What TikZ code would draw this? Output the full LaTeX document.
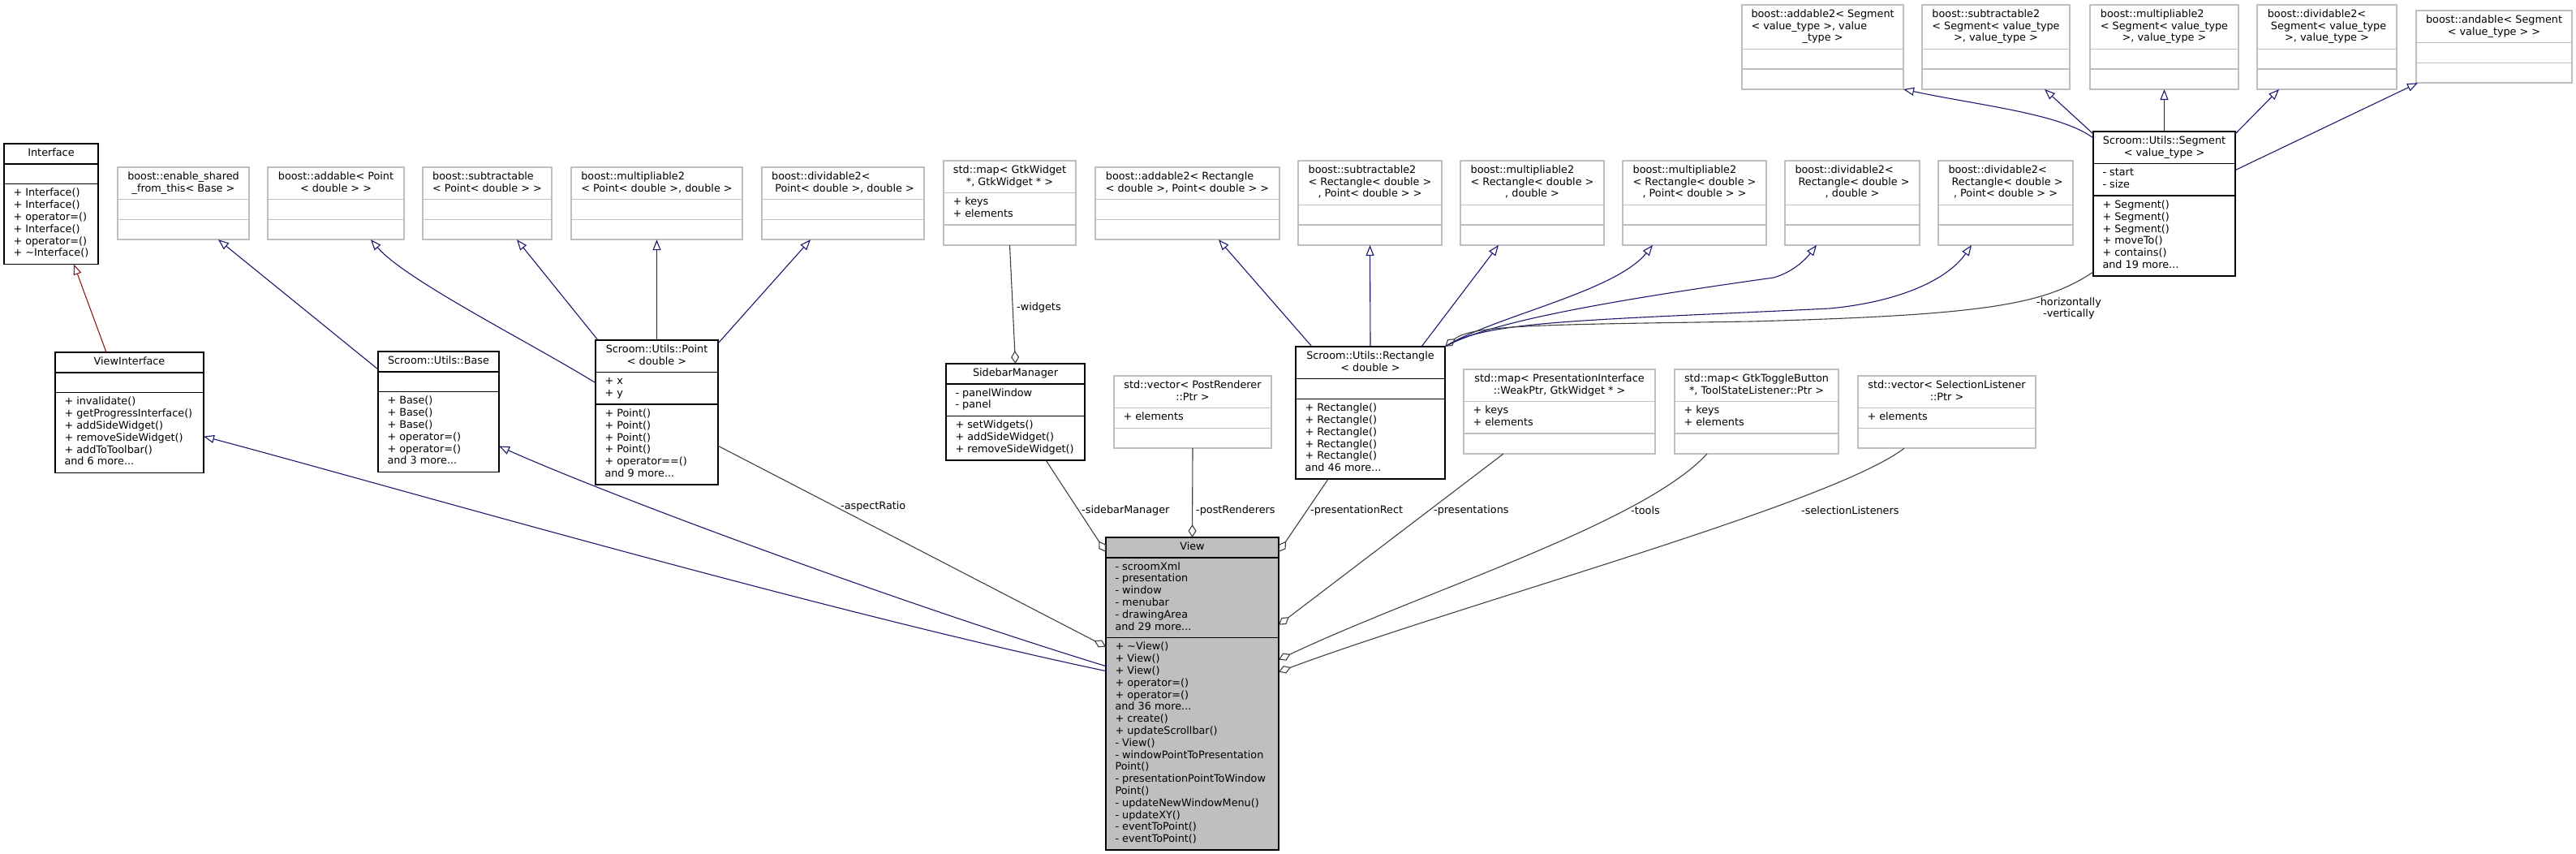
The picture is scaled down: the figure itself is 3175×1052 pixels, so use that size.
\documentclass[tikz,border=0pt]{standalone}
\usepackage{fontspec}
\setmainfont{DejaVu Sans}
\usetikzlibrary{positioning,calc,arrows.meta}

\definecolor{edgeblue}{HTML}{191970}
\definecolor{edgered}{HTML}{8B1A1A}
\definecolor{edgegrey}{HTML}{404040}
\definecolor{extgrey}{HTML}{BFBFBF}
\definecolor{viewfill}{HTML}{BFBFBF}

\tikzset{
  cls/.style={draw=black, line width=1.5pt, outer sep=0pt, inner xsep=11.5pt, inner ysep=5pt, anchor=north west, minimum height=24.8pt},
  ext/.style={cls, draw=extgrey},
  viewcls/.style={cls, fill=viewfill},
  inherit/.style={draw=edgeblue, line width=1.1pt, -{Triangle[open, length=13pt, width=10pt]}},
  inheritred/.style={inherit, draw=edgered},
  uses/.style={draw=edgegrey, line width=1.1pt, -{Diamond[open, length=16pt, width=10pt]}},
  lbl/.style={inner sep=0pt, anchor=west},
}

% title lines: all left but the last one, which is centred
\newcommand\ttl[1]{\begin{tabular}{@{}l@{}}#1\end{tabular}}
\newcommand\lastc[1]{\multicolumn{1}{@{}c@{}}{#1}}
\newcommand\members[2]{\makebox[\dimexpr#1pt-23pt\relax][l]{\begin{tabular}{@{}l@{}}#2\end{tabular}}}
% [style]{name}{x,y}{width}{title}{attributes}{methods}
\newcommand\umlclass[7][cls]{%
  \node[#1, minimum width=#4pt] (#2) at (#3) {#5};
  \node[#1, minimum width=#4pt, below=0pt of #2] (#2a) {\members{#4}{#6}};
  \node[#1, minimum width=#4pt, below=0pt of #2a] (#2m) {\members{#4}{#7}};
}

\begin{document}
\begin{tikzpicture}[x=1pt, y=-1pt, font=\fontsize{12.8}{14.8}\selectfont]
\useasboundingbox (0,0) rectangle (3175,1052);

% classes
\umlclass{iface}{5,177}{116}{\ttl{Interface}}{}{+ Interface()\\+ Interface()\\+ operator=()\\+ Interface()\\+ operator=()\\+ \textasciitilde Interface()}
\umlclass[ext]{enableshared}{145,206}{162}{\ttl{boost::enable\_shared\\\lastc{\_from\_this< Base >}}}{}{}
\umlclass[ext]{addpoint}{330,206}{168}{\ttl{boost::addable< Point\\\lastc{< double > >}}}{}{}
\umlclass[ext]{subpoint}{521,206}{159}{\ttl{boost::subtractable\\\lastc{< Point< double > >}}}{}{}
\umlclass[ext]{mulpoint}{704,206}{211}{\ttl{boost::multipliable2\\\lastc{< Point< double >, double >}}}{}{}
\umlclass[ext]{divpoint}{939,206}{200}{\ttl{boost::dividable2<\\\lastc{\ Point< double >, double >}}}{}{}
\umlclass[ext]{widgetmap}{1163,198}{163}{\ttl{std::map< GtkWidget\\\lastc{*, GtkWidget * >}}}{+ keys\\+ elements}{}
\umlclass[ext]{addrect}{1350,206}{227}{\ttl{boost::addable2< Rectangle\\\lastc{< double >, Point< double > >}}}{}{}
\umlclass[ext]{subrect}{1600,198}{177}{\ttl{boost::subtractable2\\< Rectangle< double >\\\lastc{, Point< double > >}}}{}{}
\umlclass[ext]{mulrectd}{1800,198}{177}{\ttl{boost::multipliable2\\< Rectangle< double >\\\lastc{, double >}}}{}{}
\umlclass[ext]{mulrectp}{2000,198}{177}{\ttl{boost::multipliable2\\< Rectangle< double >\\\lastc{, Point< double > >}}}{}{}
\umlclass[ext]{divrectd}{2200,198}{166}{\ttl{boost::dividable2<\\\ Rectangle< double >\\\lastc{, double >}}}{}{}
\umlclass[ext]{divrectp}{2389,198}{166}{\ttl{boost::dividable2<\\\ Rectangle< double >\\\lastc{, Point< double > >}}}{}{}
\umlclass[ext]{addseg}{2147,6}{199}{\ttl{boost::addable2< Segment\\< value\_type >, value\\\lastc{\_type >}}}{}{}
\umlclass[ext]{subseg}{2369,6}{182}{\ttl{boost::subtractable2\\< Segment< value\_type\\\lastc{>, value\_type >}}}{}{}
\umlclass[ext]{mulseg}{2576,6}{183}{\ttl{boost::multipliable2\\< Segment< value\_type\\\lastc{>, value\_type >}}}{}{}
\umlclass[ext]{divseg}{2782,6}{172}{\ttl{boost::dividable2<\\\ Segment< value\_type\\\lastc{>, value\_type >}}}{}{}
\umlclass[ext]{andseg}{2978,13}{192}{\ttl{boost::andable< Segment\\\lastc{< value\_type > >}}}{}{}
\umlclass{segment}{2580,162}{175}{\ttl{Scroom::Utils::Segment\\\lastc{< value\_type >}}}{- start\\- size}{+ Segment()\\+ Segment()\\+ Segment()\\+ moveTo()\\+ contains()\\and 19 more...}
\umlclass{viewiface}{68,434}{183}{\ttl{ViewInterface}}{}{+ invalidate()\\+ getProgressInterface()\\+ addSideWidget()\\+ removeSideWidget()\\+ addToToolbar()\\and 6 more...}
\umlclass{base}{466,433}{149}{\ttl{Scroom::Utils::Base}}{}{+ Base()\\+ Base()\\+ Base()\\+ operator=()\\+ operator=()\\and 3 more...}
\umlclass{point}{734,419}{151}{\ttl{Scroom::Utils::Point\\\lastc{< double >}}}{+ x\\+ y}{+ Point()\\+ Point()\\+ Point()\\+ Point()\\+ operator==()\\and 9 more...}
\umlclass{sidebar}{1166,448}{171}{\ttl{SidebarManager}}{- panelWindow\\- panel}{+ setWidgets()\\+ addSideWidget()\\+ removeSideWidget()}
\umlclass[ext]{postvec}{1373,463}{194}{\ttl{std::vector< PostRenderer\\\lastc{::Ptr >}}}{+ elements}{}
\umlclass{rect}{1597,427}{184}{\ttl{Scroom::Utils::Rectangle\\\lastc{< double >}}}{}{+ Rectangle()\\+ Rectangle()\\+ Rectangle()\\+ Rectangle()\\+ Rectangle()\\and 46 more...}
\umlclass[ext]{presmap}{1804,455}{236}{\ttl{std::map< PresentationInterface\\\lastc{::WeakPtr, GtkWidget * >}}}{+ keys\\+ elements}{}
\umlclass[ext]{toolmap}{2064,455}{202}{\ttl{std::map< GtkToggleButton\\\lastc{*, ToolStateListener::Ptr >}}}{+ keys\\+ elements}{}
\umlclass[ext]{selvec}{2290,463}{219}{\ttl{std::vector< SelectionListener\\\lastc{::Ptr >}}}{+ elements}{}
\umlclass[viewcls]{view}{1363,662}{213}{\ttl{View}}{- scroomXml\\- presentation\\- window\\- menubar\\- drawingArea\\and 29 more...}{+ \textasciitilde View()\\+ View()\\+ View()\\+ operator=()\\+ operator=()\\and 36 more...\\+ create()\\+ updateScrollbar()\\- View()\\- windowPointToPresentation\\Point()\\- presentationPointToWindow\\Point()\\- updateNewWindowMenu()\\- updateXY()\\- eventToPoint()\\- eventToPoint()}

% inheritance
\draw[inheritred] ($(viewiface.north west)+(63,0)$) -- ($(ifacem.south west)+(86,0)$);
\draw[inherit] ($(base.north west)+(0,22)$) -- ($(enablesharedm.south west)+(124,0)$);
\draw[inherit] ($(pointa.north west)+(0,13)$) .. controls (650,420) and (500,345) .. ($(addpointm.south west)+(127,0)$);
\draw[inherit] ($(point.north west)+(3,0)$) -- ($(subpointm.south west)+(116,0)$);
\draw[inherit] (point.north) -- (mulpointm.south);
\draw[inherit] ($(point.north east)+(0,4)$) -- ($(divpointm.south west)+(60,0)$);
\draw[inherit] ($(viewm.north west)+(0,41)$) .. controls (1000,750) and (450,590) .. ($(viewifacem.north east)+(0,54)$);
\draw[inherit] ($(viewm.north west)+(0,35)$) .. controls (1100,740) and (750,610) .. ($(basem.north east)+(0,67)$);
\draw[inherit] ($(rect.north west)+(20,0)$) -- ($(addrectm.south west)+(152,0)$);
\draw[inherit] (rect.north) -- (subrectm.south);
\draw[inherit] ($(rect.north east)+(-29,0)$) -- ($(mulrectdm.south west)+(47,0)$);
\draw[inherit] (rect.north east) .. controls (1840,390) and (1990,360) .. ($(mulrectpm.south west)+(37,0)$);
\draw[inherit] (rect.north east) .. controls (1830,400) and (1950,375) .. (2186,342) .. controls (2210,335) and (2225,320) .. ($(divrectdm.south west)+(39,0)$);
\draw[inherit] (rect.north east) .. controls (1830,395) and (1950,395) .. (2255,380) .. controls (2340,372) and (2400,345) .. ($(divrectpm.south west)+(41,0)$);
\draw[inherit] ($(segment.north west)+(0,8)$) .. controls (2540,140) and (2440,130) .. (addsegm.south east);
\draw[inherit] ($(segment.north west)+(0,3)$) -- ($(subsegm.south west)+(151,0)$);
\draw[inherit] (segment.north) -- (mulsegm.south);
\draw[inherit] ($(segment.north east)+(0,3)$) -- ($(divsegm.south west)+(27,0)$);
\draw[inherit] ($(segmenta.north east)+(0,8)$) -- ($(andsegm.south west)+(2,0)$);

% usage
\draw[uses] (widgetmapm.south) -- (sidebar.north);
\draw[uses] ($(segmentm.south west)+(0,-5)$) .. controls (2520,375) and (2450,388) .. (2158,396) .. controls (1900,400) and (1815,400) .. (rect.north east);
\draw[uses] ($(sidebarm.south west)+(123,0)$) -- ($(view.north west)+(0,18)$);
\draw[uses] (postvecm.south) -- (view.north);
\draw[uses] ($(rectm.south west)+(40,0)$) -- ($(view.north east)+(0,18)$);
\draw[uses] ($(pointm.north east)+(0,51)$) -- ($(viewm.north west)+(0,11)$);
\draw[uses] ($(presmapm.south west)+(49,0)$) -- ($(viewa.north east)+(0,83)$);
\draw[uses] ($(toolmapm.south west)+(40,0)$) .. controls (2025,645) and (1755,728) .. ($(viewm.north east)+(0,27)$);
\draw[uses] ($(selvecm.south west)+(57,0)$) .. controls (2257,621) and (1807,742) .. ($(viewm.north east)+(0,42)$);

% labels
\node[lbl] (lwidgets) at (1253,379) {-widgets};
\node[lbl] (lsidebar) at (1333,629) {-sidebarManager};
\node[lbl] (lpost) at (1474,629) {-postRenderers};
\node[lbl] (lprect) at (1615,629) {-presentationRect};
\node[lbl] (lpres) at (1767,629) {-presentations};
\node[lbl] (ltools) at (2010,629) {-tools};
\node[lbl] (lsel) at (2220,629) {-selectionListeners};
\node[lbl] (laspect) at (1036,624) {-aspectRatio};
\node[align=center, inner sep=0pt] (lhv) at (2550,380) {-horizontally\\-vertically};

\end{tikzpicture}
\end{document}
